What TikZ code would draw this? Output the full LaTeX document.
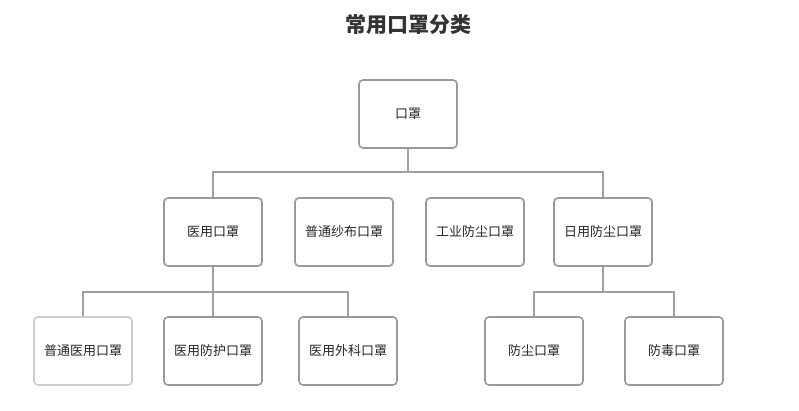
\documentclass[tikz,border=0pt]{standalone}
\usepackage{fontspec}
\setmainfont{Noto Sans CJK SC}
\usepackage{tikz}
\usetikzlibrary{positioning}

\definecolor{edgegray}{HTML}{A0A0A0}
\definecolor{boxgray}{HTML}{999999}
\definecolor{boxlight}{HTML}{CCCCCC}
\definecolor{titlegray}{HTML}{333333}

\begin{document}
\begin{tikzpicture}[
        x=1pt, y=-1pt,
        box/.style={rectangle, draw=boxgray, line width=1.6pt, rounded corners=4pt, fill=white,
          minimum width=98pt, minimum height=68pt, align=center, inner sep=0pt,
          font=\fontsize{13}{15}\selectfont, text=black!85},
        lightbox/.style={box, draw=boxlight},
        link/.style={draw=edgegray, line width=1.6pt}
      ]
      \useasboundingbox (0,0) rectangle (799,411);

      % Title
      \node[font=\fontsize{21}{24}\selectfont\bfseries, text=titlegray] (title) at (408,25) {常用口罩分类};

      % Root
      \node[box] (root) at (408,114) {口罩};

      % Second level
      \node[box] (med) at (213,232) {医用口罩};
      \node[box] (gauze) at (344,232) {普通纱布口罩};
      \node[box] (indust) at (475,232) {工业防尘口罩};
      \node[box] (daily) at (603,232) {日用防尘口罩};

      % Third level
      \node[lightbox] (ordmed) at (83,351) {普通医用口罩};
      \node[box] (medprot) at (213,351) {医用防护口罩};
      \node[box] (surg) at (348,351) {医用外科口罩};
      \node[box] (dust) at (534,351) {防尘口罩};
      \node[box] (toxic) at (674,351) {防毒口罩};

      % Junctions
      \coordinate (bus1) at (408,172);
      \coordinate (bus2) at (213,292);
      \coordinate (bus3) at (603,292);

      % Connections
      \draw[link] (root.south) -- (bus1);
      \draw[link] (med.north) |- (bus1) -| (daily.north);
      \draw[link] (med.south) -- (medprot.north);
      \draw[link] (ordmed.north) |- (bus2) -| (surg.north);
      \draw[link] (daily.south) -- (bus3);
      \draw[link] (dust.north) |- (bus3) -| (toxic.north);

    \end{tikzpicture}
\end{document}
